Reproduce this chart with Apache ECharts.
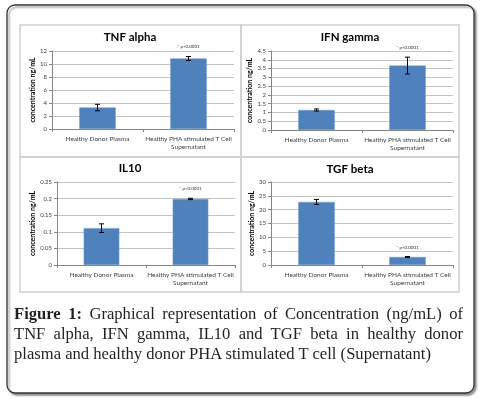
<!DOCTYPE html>
<html>
<head>
<meta charset="utf-8">
<script src="https://cdn.jsdelivr.net/npm/echarts@6/dist/echarts.min.js"></script>
<style>
  html, body { margin: 0; padding: 0; background: #fff; }
  #wrap { position: relative; width: 483px; height: 399px; }
  #chart { position: absolute; left: 0; top: 0; width: 483px; height: 399px; }
  .caption {
    position: absolute;
    left: 14px;
    top: 304px;
    width: 449px;
    font-family: "Liberation Serif", "DejaVu Serif", serif;
    font-size: 16.6px;
    line-height: 20px;
    color: #231f20;
  }
  .caption .j { text-align: justify; text-align-last: justify; white-space: nowrap; }
</style>
</head>
<body>
<div id="wrap">
  <div id="chart"></div>
  <div class="caption">
    <div class="j"><b>Figure 1:</b> Graphical representation of Concentration (ng/mL) of</div>
    <div class="j">TNF alpha, IFN gamma, IL10 and TGF beta in healthy donor</div>
    <div>plasma and healthy donor PHA stimulated T cell (Supernatant)</div>
  </div>
</div>
<script>
// same two groups in every panel
const categories = ['Healthy Donor Plasma', 'Healthy PHA stimulated T Cell\nSupernatant']
const notes = ['', '* p<0.0001']
const yName = 'concentration ng/mL'

const tnfValues = [3.3, 10.85]
const tnfErrors = [0.5, 0.3]
const tnfAxis = [0, 12, 2]

const ifnValues = [1.14, 3.67]
const ifnErrors = [0.06, 0.48]
const ifnAxis = [0, 4.5, 0.5]

const il10Values = [0.111, 0.199]
const il10Errors = [0.013, 0.002]
const il10Axis = [0, 0.25, 0.05]

const tgfValues = [22.8, 2.9]
const tgfErrors = [0.9, 0.15]
const tgfAxis = [0, 30, 5]

const BAR = '#4f81bd'
const AXIS = '#868686'
const TEXT = '#404040'
const FONT = 'Lato, "Open Sans", sans-serif'

const panels = [
  { title: 'TNF alpha', values: tnfValues, errors: tnfErrors, axis: tnfAxis,
    grid: { left: 52, top: 51, width: 182, height: 78 }, titleAt: [130, 37], box: [20, 25, 221, 132] },
  { title: 'IFN gamma', values: ifnValues, errors: ifnErrors, axis: ifnAxis,
    grid: { left: 271, top: 51, width: 182, height: 79 }, titleAt: [350, 37], box: [241, 25, 218, 132] },
  { title: 'IL10', values: il10Values, errors: il10Errors, axis: il10Axis,
    grid: { left: 57, top: 182, width: 178, height: 83 }, titleAt: [130, 168], box: [20, 157, 221, 135] },
  { title: 'TGF beta', values: tgfValues, errors: tgfErrors, axis: tgfAxis,
    grid: { left: 271, top: 182, width: 182, height: 83 }, titleAt: [350, 169], box: [241, 157, 218, 135] }
]

function errorRenderer(panel) {
  return function (params, api) {
    const x = api.value(0)
    const lo = api.coord([x, api.value(1)])
    const hi = api.coord([x, api.value(2)])
    const cap = 2.5
    const line = { stroke: '#000', lineWidth: 1 }
    const children = [
      { type: 'line', shape: { x1: lo[0], y1: lo[1], x2: hi[0], y2: hi[1] }, style: line },
      { type: 'line', shape: { x1: lo[0] - cap, y1: lo[1], x2: lo[0] + cap, y2: lo[1] }, style: line },
      { type: 'line', shape: { x1: hi[0] - cap, y1: hi[1], x2: hi[0] + cap, y2: hi[1] }, style: line }
    ]
    const note = notes[params.dataIndex]
    if (note) {
      children.push({
        type: 'text',
        style: {
          x: hi[0], y: hi[1] - 7, text: note, align: 'center', verticalAlign: 'bottom',
          fill: '#333', font: '4.5px ' + FONT
        }
      })
    }
    return { type: 'group', children }
  }
}

const option = {
  animation: false,
  backgroundColor: '#fff',
  textStyle: { fontFamily: FONT },
  grid: panels.map((p) => Object.assign({ containLabel: false }, p.grid)),
  xAxis: panels.map((p, i) => ({
    type: 'category',
    gridIndex: i,
    data: categories,
    axisLine: { lineStyle: { color: AXIS, width: 1 } },
    axisTick: { show: true, length: 3, lineStyle: { color: AXIS } },
    axisLabel: { interval: 0, color: TEXT, fontSize: 6.5, lineHeight: 8, margin: 6, fontFamily: FONT },
    splitLine: { show: false }
  })),
  yAxis: panels.map((p, i) => ({
    type: 'value',
    gridIndex: i,
    min: p.axis[0],
    max: p.axis[1],
    interval: p.axis[2],
    name: yName,
    nameLocation: 'middle',
    nameGap: 16,
    nameRotate: 90,
    nameTextStyle: { color: '#000', fontSize: 7, fontWeight: 'bold', fontFamily: FONT },
    axisLine: { show: true, lineStyle: { color: AXIS, width: 1 } },
    axisTick: { show: true, length: 3, lineStyle: { color: AXIS } },
    axisLabel: { color: TEXT, fontSize: 6, margin: 5, fontFamily: FONT },
    splitLine: { lineStyle: { color: '#c4c4c4', width: 1 } }
  })),
  graphic: [
    {
      type: 'rect', z: -10,
      shape: { x: 7, y: 5, width: 467, height: 388, r: 8 },
      style: {
        fill: '#fff', stroke: '#333', lineWidth: 1.3,
        shadowBlur: 2, shadowOffsetX: 2, shadowOffsetY: 2, shadowColor: 'rgba(0,0,0,0.4)'
      }
    },
    ...panels.map((p) => ({
      type: 'rect', z: -5,
      shape: { x: p.box[0], y: p.box[1], width: p.box[2], height: p.box[3] },
      style: { fill: 'none', stroke: '#d0d0d0', lineWidth: 1.5 }
    })),
    ...panels.map((p) => ({
      type: 'text',
      x: p.titleAt[0], y: p.titleAt[1],
      style: {
        text: p.title, align: 'center', verticalAlign: 'middle',
        fill: '#000', font: 'bold 11.5px ' + FONT
      }
    }))
  ],
  series: panels.flatMap((p, i) => [
    {
      type: 'bar',
      xAxisIndex: i,
      yAxisIndex: i,
      data: p.values,
      barWidth: '40%',
      itemStyle: { color: BAR, borderColor: '#6d97cb', borderWidth: 0.5 }
    },
    {
      type: 'custom',
      xAxisIndex: i,
      yAxisIndex: i,
      z: 5,
      renderItem: errorRenderer(p),
      data: p.values.map((v, k) => [k, v - p.errors[k], v + p.errors[k]])
    }
  ])
}

const chart = echarts.init(document.getElementById('chart'))
chart.setOption(option)
</script>
</body>
</html>
